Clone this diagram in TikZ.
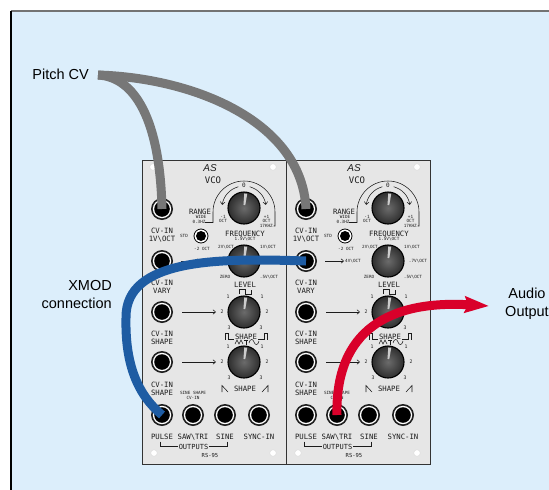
\documentclass[tikz,border=0pt]{standalone}
\usepackage{fontspec}
\setmainfont{Liberation Sans}
\newfontfamily\panelfont{DejaVu Sans Mono}
\usetikzlibrary{arrows.meta}

\definecolor{bgblue}{HTML}{DCEEFB}
\definecolor{cablegrey}{HTML}{777777}
\definecolor{cableblue}{HTML}{1E5CA3}
\definecolor{cablered}{HTML}{D9002A}
\definecolor{panelgrey}{HTML}{E6E6E6}
\definecolor{inkgrey}{HTML}{1C1C1C}

\tikzset{
  callout/.style={font=\fontsize{14.5}{18}\selectfont, inner sep=0pt, text=black},
  ptxt/.style={font=\panelfont\fontsize{7.3}{8}\selectfont, text=inkgrey, inner sep=0pt, align=center},
  ptiny/.style={font=\panelfont\fontsize{4.3}{4.8}\selectfont, text=inkgrey, inner sep=0pt, align=center},
  pnum/.style={font=\panelfont\fontsize{4.8}{5}\selectfont, text=inkgrey, inner sep=0pt},
  logo/.style={font=\fontsize{10}{10}\selectfont\itshape, text=inkgrey, inner sep=0pt},
  pline/.style={draw=inkgrey, line width=0.55pt},
  parrow/.style={pline, -{Straight Barb[length=2.6pt,width=4.5pt]}},
  jackbody/.style={circle, minimum size=22pt, inner sep=0pt, fill=black!88},
  knobbody/.style={circle, minimum size=32pt, inner sep=0pt, draw=black, line width=1.1pt,
                   inner color=black!58, outer color=black!82},
  cable/.style={line width=9pt, line cap=butt},
}

% a patch socket: dark nut, bright rim, black hole
\newcommand\jackat[3]{%
  \node[jackbody] (#1) at (#2,#3) {};
  \fill[white] (#1.center) circle[radius=9.2pt];
  \fill[black] (#1.center) circle[radius=7.8pt];
}

% a knob with its pointer
\newcommand\knobat[3]{%
  \node[knobbody] (#1) at (#2,#3) {};
  \fill[black!20, rotate around={-7:(#2,#3)}]
    (#2-0.9,#3-3) -- (#2+0.9,#3-3) -- (#2+1.5,#3-14.5) -- (#2-1.5,#3-14.5) -- cycle;
}

% the 1/2/3 scale printed around a knob
\newcommand\knobnums[3]{%
  \node[pnum] (#1a) at (#2-16,#3-15) {1};
  \node[pnum] (#1b) at (#2+18,#3-15) {1};
  \node[pnum] (#1c) at (#2-22,#3) {2};
  \node[pnum] (#1d) at (#2+23,#3) {2};
  \node[pnum] (#1e) at (#2-15,#3+16) {3};
  \node[pnum] (#1f) at (#2+17,#3+16) {3};
}

% one VCO module front panel; #1 = name prefix, (#2,#3) = top left corner
\newcommand\vcopanel[3]{%
\begin{scope}[shift={(#2,#3)}]
  \draw[fill=panelgrey, draw=black!80, line width=1pt] (0,0) rectangle (144,304);
  \foreach \sx/\sy in {11/7,131/7,12/293,131/293}
    \filldraw[fill=white, draw=black!15, line width=0.4pt] (\sx,\sy) circle[radius=3.3pt];
  \node[logo] (#1logo) at (68,8) {AS};
  \node[ptxt, font=\panelfont\fontsize{9}{9}\selectfont] (#1vco) at (71,20.5) {VCO};
  % input sockets
  \jackat{#1j1}{20}{49}
  \jackat{#1j2}{20}{101}
  \jackat{#1j3}{20}{152}
  \jackat{#1j4}{20}{202}
  \node[ptxt] (#1t1) at (20,75) {CV-IN\\1V\textbackslash OCT};
  \node[ptxt] (#1t2) at (20,127) {CV-IN\\VARY};
  \node[ptxt] (#1t3) at (20,178) {CV-IN\\SHAPE};
  \node[ptxt] (#1t4) at (20,229) {CV-IN\\SHAPE};
  % output row
  \jackat{#1pulse}{20}{255}
  \jackat{#1saw}{51}{255}
  \jackat{#1sine}{83}{255}
  \jackat{#1sync}{117}{255}
  \node[ptxt] (#1tp) at (20,277) {PULSE};
  \node[ptxt] (#1ts) at (51,277) {SAW\textbackslash TRI};
  \node[ptxt] (#1ti) at (83,277) {SINE};
  \node[ptxt] (#1ty) at (117,277) {SYNC-IN};
  \node[ptiny] (#1tss) at (51,235.5) {SINE SHAPE\\CV-IN};
  \node[ptxt, font=\panelfont\fontsize{7}{7}\selectfont] (#1out) at (51.5,286.5) {OUTPUTS};
  \draw[pline] (18,281.5) |- ([xshift=-1pt]#1out.west);
  \draw[pline] (85,281.5) |- ([xshift=1pt]#1out.east);
  \node[ptxt, font=\panelfont\fontsize{5.5}{6}\selectfont] (#1rs) at (68,295.5) {RS-95};
  % coarse frequency knob with its range scale
  \knobat{#1k1}{102}{48}
  \draw[pline] (63,62.5) -- (71,62.5) -- (71,52) arc[start angle=180,end angle=0,radius=31pt] -- (133,66) -- (131.5,66);
  \draw[parrow] ([shift={(105:22pt)}]#1k1.center) arc[start angle=105,end angle=172,radius=22pt];
  \draw[parrow] ([shift={(75:22pt)}]#1k1.center) arc[start angle=75,end angle=8,radius=22pt];
  \node[pnum, font=\panelfont\fontsize{6}{6}\selectfont] (#1zero) at (102,25.5) {0};
  \node[ptxt] (#1range) at (58,52) {RANGE};
  \node[ptiny] (#1wide) at (59,57.3) {WIDE};
  \node[ptiny] (#1lo) at (57,61.8) {0.3HZ};
  \node[ptiny] (#1m1) at (81,56.5) {-1};
  \node[ptiny] (#1m1o) at (81,60.5) {OCT};
  \node[ptiny] (#1p1) at (124.5,56.5) {+1};
  \node[ptiny] (#1p1o) at (124.5,60.5) {OCT};
  \node[ptiny, anchor=east] (#1hi) at (131,66) {17KHZ};
  % range switch
  \node[circle, minimum size=14pt, inner sep=0pt, fill=white, draw=black, line width=0.8pt] (#1sw) at (59,76) {};
  \fill[black] (#1sw.center) circle[radius=5pt];
  \node[ptiny] (#1std) at (42,76) {STD};
  \node[ptiny] (#1m2) at (60,89) {-2 OCT};
  \node[ptxt] (#1freq) at (103,74) {FREQUENCY};
  \node[ptiny] (#1fs) at (103,79.5) {1.5V\textbackslash OCT};
  % modulation depth knob
  \knobat{#1k2}{102}{101}
  \node[ptiny] (#1va) at (84,87) {2V\textbackslash OCT};
  \node[ptiny] (#1vb) at (126,87) {1V\textbackslash OCT};
  \node[ptiny] (#1vc) at (83,117) {ZERO};
  \node[ptiny] (#1vd) at (127,117) {.5V\textbackslash OCT};
  \node[ptiny] (#1ve) at (67,101) {4V\textbackslash OCT};
  \node[ptiny] (#1vf) at (132,101) {.7V\textbackslash OCT};
  \draw[parrow] (39,101) -- ([xshift=-1pt]#1ve.west);
  % level knob
  \node[ptxt] (#1lev) at (103,125) {LEVEL};
  \draw[pline] (97,134) -- (97,129.5) -- (103,129.5) -- (103,134) -- (109,134) -- (109,129.5);
  \knobat{#1k3}{102}{152}
  \knobnums{#1k3n}{102}{152}
  \draw[parrow] (40,152) -- (74,152);
  % pulse / wave shape
  \node[ptxt] (#1sh1) at (104,177) {SHAPE};
  \draw[pline] (83,179.5) -- (83,173.5) -- (86,173.5) -- (86,179.5) -- (92,179.5);
  \draw[pline] (116,179.5) -- (122,179.5) -- (122,173.5) -- (125,173.5) -- (125,179.5);
  \draw[pline] (93,184) -- (95,180) -- (97,184) -- (99,180) -- (101,184);
  \draw[pline] (102,180) -- (106,180) (104,180) -- (104,185);
  \draw[pline] (107,183) .. controls (108,178.5) and (111,178.5) .. (112,182) .. controls (113,185.5) and (116,185.5) .. (117,181);
  \knobat{#1k4}{102}{202}
  \knobnums{#1k4n}{102}{202}
  \draw[parrow] (40,202) -- (74,202);
  % saw shape
  \node[ptxt] (#1sh2) at (103,228.5) {SHAPE};
  \draw[pline] (80,232) -- (80,225.5) -- (86,232);
  \draw[pline] (120,232) -- (126,225.5) -- (126,232);
\end{scope}}

\begin{document}
\begin{tikzpicture}[x=1pt,y=-1pt]
\useasboundingbox (0,0) rectangle (549,490);
\fill[white] (0,0) rectangle (549,490);
\fill[bgblue] (11,11) rectangle (549,490);
\draw[black!55, line width=1.5pt] (11,11) -- (549,11);
\draw[black, line width=1.5pt] (11,11) -- (11,490);

\vcopanel{L}{142}{160}
\vcopanel{R}{286}{160}

% callouts
\node[callout, anchor=east] (pitch) at (89,74) {Pitch CV};
\coordinate (pitchend) at (98,75);
\node[callout, anchor=east, align=right] (xmod) at (112,295) {XMOD\\connection};
\node[callout, align=center] (audio) at (527,304) {Audio\\Output};
\coordinate (audiotip) at (489,306);

% patch cables
\draw[cable, cablegrey] (pitchend) .. controls (135,77) and (160,120) .. (Lj1.center);
\draw[cable, cablegrey] (pitchend) .. controls (195,78) and (302,122) .. (Rj1.center);
\draw[cable, cableblue] (Rj2.center) .. controls (220,258) and (125,258) .. (126,318)
      .. controls (125,365) and (138,395) .. (Lpulse.center);
\draw[cable, cablered, -{Stealth[length=24pt,width=16pt,inset=3pt]}]
      (Rsaw.center) .. controls (335,330) and (390,300) .. (audiotip);
\end{tikzpicture}
\end{document}
